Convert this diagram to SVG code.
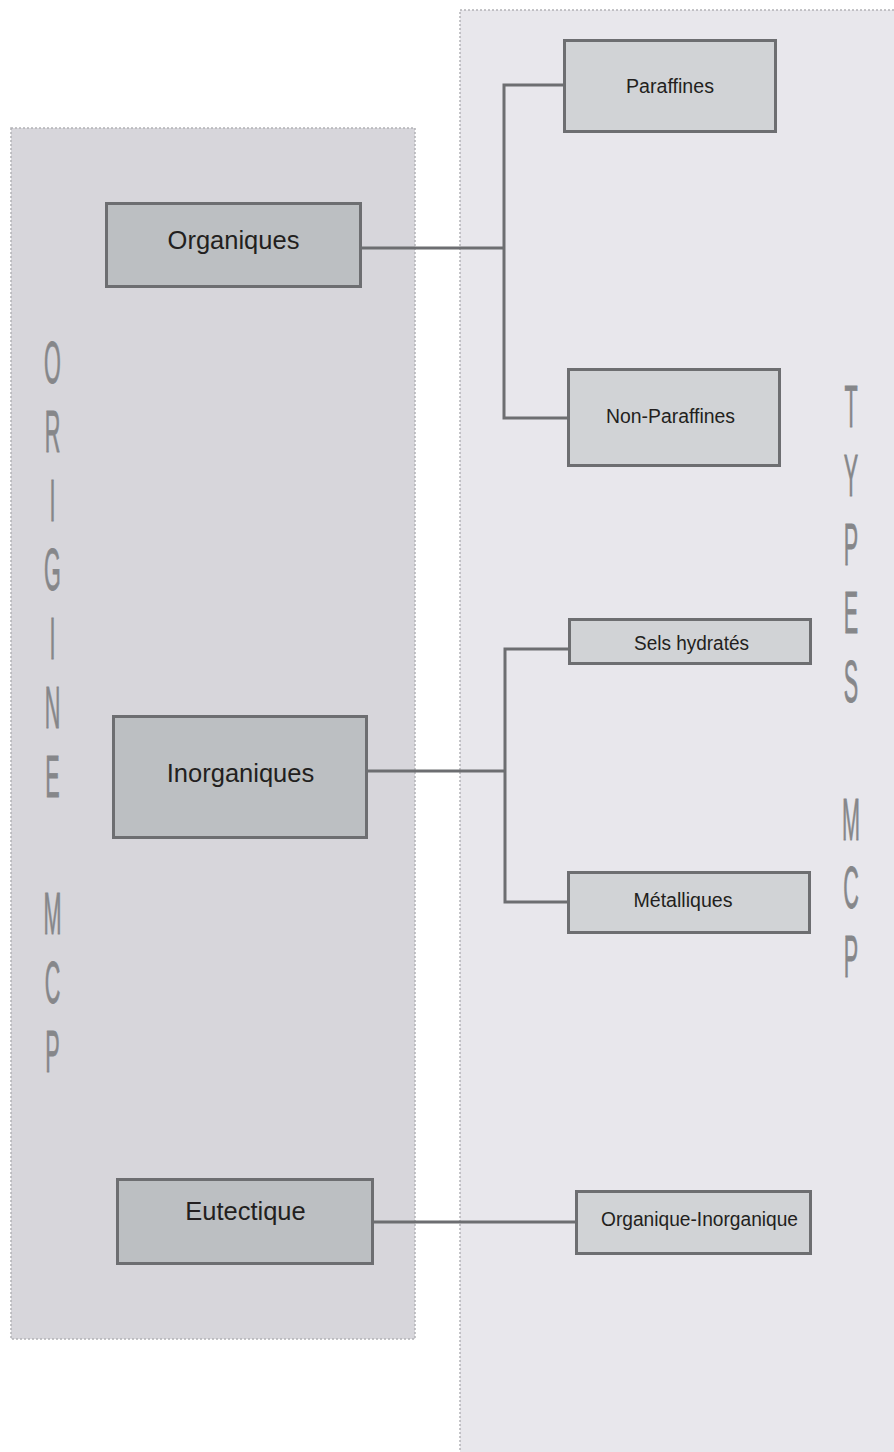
<svg xmlns="http://www.w3.org/2000/svg" width="894" height="1452" viewBox="0 0 894 1452">
  <style>
    .panel { stroke: #b2b2b6; stroke-width: 1.5; stroke-dasharray: 2 2; }
    .origin { fill: #bcbfc2; stroke: #6d6e71; stroke-width: 3; }
    .type { fill: #d1d3d6; stroke: #6d6e71; stroke-width: 3; }
    .big { font-family: "Liberation Sans", Arial, sans-serif; font-size: 25.5px; fill: #231f20; text-anchor: middle; }
    .small { font-family: "Liberation Sans", Arial, sans-serif; font-size: 20px; fill: #231f20; text-anchor: middle; }
    .tall { font-family: "Liberation Sans", Arial, sans-serif; font-size: 60px; fill: #86878a; stroke: #86878a; stroke-width: 0.8; text-anchor: middle; }
    .link { fill: none; stroke: #6d6e71; stroke-width: 3; }
  </style>
  <rect width="894" height="1452" fill="#ffffff"/>

  <!-- background bands -->
  <g id="band-origine">
    <rect class="panel" x="11" y="128" width="404" height="1211" fill="#d7d6db"/>
    <g transform="translate(52.5,0) scale(0.36,1)">
      <text class="tall"><tspan x="0" y="383">O</tspan><tspan x="0" y="452">R</tspan><tspan x="0" y="521">I</tspan><tspan x="0" y="590">G</tspan><tspan x="0" y="659">I</tspan><tspan x="0" y="728">N</tspan><tspan x="0" y="797">E</tspan><tspan x="0" y="934">M</tspan><tspan x="0" y="1003">C</tspan><tspan x="0" y="1072">P</tspan></text>
    </g>
  </g>
  <g id="band-types">
    <rect class="panel" x="460" y="10" width="460" height="1470" fill="#e8e7ec"/>
    <g transform="translate(851,0) scale(0.36,1)">
      <text class="tall"><tspan x="0" y="427">T</tspan><tspan x="0" y="496">Y</tspan><tspan x="0" y="565">P</tspan><tspan x="0" y="633">E</tspan><tspan x="0" y="702">S</tspan><tspan x="0" y="840">M</tspan><tspan x="0" y="908">C</tspan><tspan x="0" y="977">P</tspan></text>
    </g>
  </g>

  <!-- connectors -->
  <g id="connectors">
    <path class="link" d="M362,248 H504"/>
    <path class="link" d="M565,85 H504 V418 H568"/>
    <path class="link" d="M368,771 H505"/>
    <path class="link" d="M569,649 H505 V902 H568"/>
    <path class="link" d="M374,1222 H576"/>
  </g>

  <!-- origin nodes -->
  <g id="organiques">
    <rect class="origin" x="106.5" y="203.5" width="254" height="83"/>
    <text class="big" x="233.5" y="249">Organiques</text>
  </g>
  <g id="inorganiques">
    <rect class="origin" x="113.5" y="716.5" width="253" height="121"/>
    <text class="big" x="240.5" y="782">Inorganiques</text>
  </g>
  <g id="eutectique">
    <rect class="origin" x="117.5" y="1179.5" width="255" height="84"/>
    <text class="big" x="245.5" y="1220">Eutectique</text>
  </g>

  <!-- type nodes -->
  <g id="paraffines">
    <rect class="type" x="564.5" y="40.5" width="211" height="91"/>
    <text class="small" x="670" y="93" textLength="88" lengthAdjust="spacingAndGlyphs">Paraffines</text>
  </g>
  <g id="non-paraffines">
    <rect class="type" x="568.5" y="369.5" width="211" height="96"/>
    <text class="small" x="670.5" y="423" textLength="129" lengthAdjust="spacingAndGlyphs">Non-Paraffines</text>
  </g>
  <g id="sels-hydrates">
    <rect class="type" x="569.5" y="619.5" width="241" height="44"/>
    <text class="small" x="691.5" y="650" textLength="115" lengthAdjust="spacingAndGlyphs">Sels hydratés</text>
  </g>
  <g id="metalliques">
    <rect class="type" x="568.5" y="872.5" width="241" height="60"/>
    <text class="small" x="683" y="907" textLength="99" lengthAdjust="spacingAndGlyphs">Métalliques</text>
  </g>
  <g id="organique-inorganique">
    <rect class="type" x="576.5" y="1191.5" width="234" height="62"/>
    <text class="small" x="699.5" y="1226" textLength="197" lengthAdjust="spacingAndGlyphs">Organique-Inorganique</text>
  </g>
</svg>
